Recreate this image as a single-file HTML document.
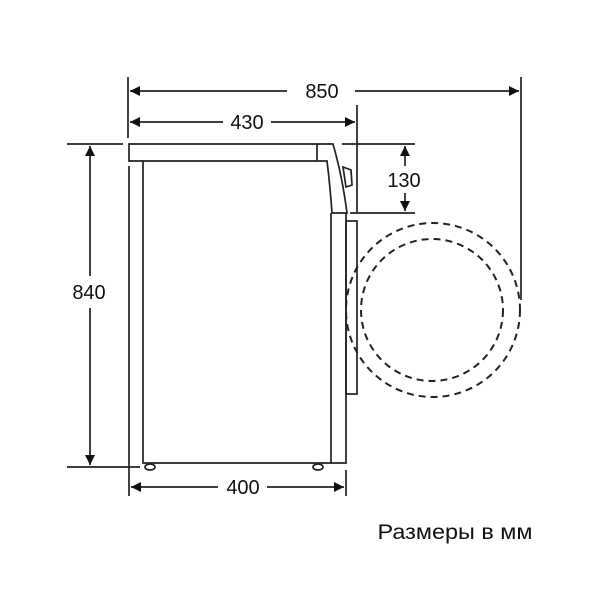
<!DOCTYPE html>
<html><head><meta charset="utf-8"><style>body{margin:0;background:#fff}svg{display:block}</style></head>
<body>
<svg width="600" height="600" viewBox="0 0 600 600" xmlns="http://www.w3.org/2000/svg" font-family="Liberation Sans, sans-serif">
<defs>
<marker id="a" viewBox="0 0 10 10" refX="10" refY="5" markerWidth="15" markerHeight="10" markerUnits="userSpaceOnUse" orient="auto-start-reverse"><path d="M0,0L10,5L0,10z" fill="#111"/></marker>
</defs>
<g stroke="#222" stroke-width="1.7" fill="none">
<line x1="128" y1="77" x2="128" y2="138"/>
<line x1="521" y1="77" x2="521" y2="300"/>
<line x1="357" y1="105" x2="357" y2="213"/>
<line x1="67" y1="144" x2="123" y2="144"/>
<line x1="67" y1="467" x2="140" y2="467"/>
<line x1="342" y1="144" x2="415" y2="144"/>
<line x1="350" y1="213" x2="415" y2="213"/>
<line x1="346" y1="470" x2="346" y2="496"/>
<line x1="129" y1="166" x2="129" y2="496"/>
<path d="M129,144 L333,144 Q342,175 347,213 L332,213 Q330,185 327,161 L129,161 Z"/>
<line x1="317" y1="144" x2="317" y2="161"/>
<path d="M143,161 L143,463 L331,463 L331,213"/>
<path d="M331,463 L346,463 L346,213"/>
<rect x="346" y="221" width="11" height="173"/>
<path d="M343,167 L351,170 L352,185 L346,187 Z"/>
<ellipse cx="150" cy="467" rx="5" ry="3"/>
<ellipse cx="318" cy="467" rx="5" ry="3"/>
<circle cx="433" cy="310" r="87" stroke-dasharray="7,5" stroke-width="2"/>
<circle cx="432" cy="310" r="71" stroke-dasharray="7,5" stroke-width="2"/>
<line x1="130" y1="91" x2="287" y2="91" marker-start="url(#a)"/>
<line x1="355" y1="91" x2="519" y2="91" marker-end="url(#a)"/>
<line x1="130" y1="122" x2="223" y2="122" marker-start="url(#a)"/>
<line x1="271" y1="122" x2="355" y2="122" marker-end="url(#a)"/>
<line x1="90" y1="146" x2="90" y2="276" marker-start="url(#a)"/>
<line x1="90" y1="308" x2="90" y2="465" marker-end="url(#a)"/>
<line x1="405" y1="146" x2="405" y2="166" marker-start="url(#a)"/>
<line x1="405" y1="193" x2="405" y2="211" marker-end="url(#a)"/>
<line x1="131" y1="487" x2="218" y2="487" marker-start="url(#a)"/>
<line x1="267" y1="487" x2="344" y2="487" marker-end="url(#a)"/>
</g>
<g fill="#111" font-size="20" text-anchor="middle">
<text x="322" y="98">850</text>
<text x="247" y="129">430</text>
<text x="89" y="299">840</text>
<text x="404" y="187">130</text>
<text x="243" y="494">400</text>
<text x="455" y="539" font-size="21" textLength="155" lengthAdjust="spacingAndGlyphs">Размеры в мм</text>
</g>
</svg>
</body></html>
